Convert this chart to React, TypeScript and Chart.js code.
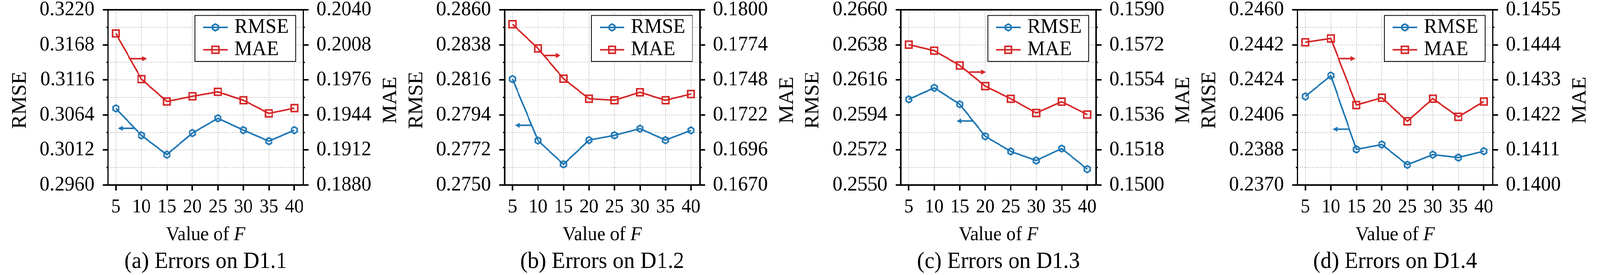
import React, { useEffect, useRef, useState } from 'react';
import { Chart, registerables } from 'chart.js';

Chart.register(...registerables);

const SERIF = '"Liberation Serif", "Times New Roman", serif';
const BLUE = '#1f77b4';
const RED = '#d62728';

// values of F on the x axis
const fValues = [5, 10, 15, 20, 25, 30, 35, 40];

// (a) D1.1
const rmseD11 = [0.30737, 0.30337, 0.30051, 0.30371, 0.3059, 0.30415, 0.30251, 0.30415];
const maeD11 = [0.20184, 0.19767, 0.19563, 0.1961, 0.19651, 0.19574, 0.19454, 0.19502];
const rmseTicksD11 = [0.296, 0.3012, 0.3064, 0.3116, 0.3168, 0.322];
const maeTicksD11 = [0.188, 0.1912, 0.1944, 0.1976, 0.2008, 0.204];
// arrows: tail x, head x, y (in axis units)
const rmseArrowD11 = [8.78, 5.41, 0.30442];
const maeArrowD11 = [7.85, 11.1, 0.19954];

// (b) D1.2
const rmseD12 = [0.28165, 0.27779, 0.2763, 0.27782, 0.27812, 0.27854, 0.27782, 0.27843];
const maeD12 = [0.17893, 0.17713, 0.17489, 0.1734, 0.17329, 0.17388, 0.17329, 0.17375];
const rmseTicksD12 = [0.275, 0.2772, 0.2794, 0.2816, 0.2838, 0.286];
const maeTicksD12 = [0.167, 0.1696, 0.1722, 0.1748, 0.1774, 0.18];
const rmseArrowD12 = [8.73, 5.47, 0.27875];
const maeArrowD12 = [11.32, 14.43, 0.17661];

// (c) D1.3
const rmseD13 = [0.26038, 0.2611, 0.26007, 0.25806, 0.25711, 0.25654, 0.25729, 0.256];
const maeD13 = [0.15721, 0.1569, 0.15614, 0.15508, 0.15443, 0.1537, 0.15428, 0.15362];
const rmseTicksD13 = [0.255, 0.2572, 0.2594, 0.2616, 0.2638, 0.266];
const maeTicksD13 = [0.15, 0.1518, 0.1536, 0.1554, 0.1572, 0.159];
const rmseArrowD13 = [17.67, 14.36, 0.25902];
const maeArrowD13 = [16.79, 20.15, 0.1558];

// (d) D1.4
const rmseD14 = [0.24155, 0.24262, 0.23883, 0.23908, 0.23804, 0.23856, 0.23841, 0.23874];
const maeD14 = [0.14448, 0.1446, 0.14251, 0.14274, 0.142, 0.14271, 0.14214, 0.14262];
const rmseTicksD14 = [0.237, 0.2388, 0.2406, 0.2424, 0.2442, 0.246];
const maeTicksD14 = [0.14, 0.1411, 0.1422, 0.1433, 0.1444, 0.1455];
const rmseArrowD14 = [13.69, 10.33, 0.23987];
const maeArrowD14 = [11.62, 14.82, 0.14397];

const captions = ['(a) Errors on D1.1', '(b) Errors on D1.2', '(c) Errors on D1.3', '(d) Errors on D1.4'];

interface PanelDef {
  caption: string;
  rmse: number[];
  mae: number[];
  rmseTicks: number[];
  maeTicks: number[];
  rmseArrow: number[];
  maeArrow: number[];
}

const panels: PanelDef[] = [
  { caption: captions[0], rmse: rmseD11, mae: maeD11, rmseTicks: rmseTicksD11, maeTicks: maeTicksD11, rmseArrow: rmseArrowD11, maeArrow: maeArrowD11 },
  { caption: captions[1], rmse: rmseD12, mae: maeD12, rmseTicks: rmseTicksD12, maeTicks: maeTicksD12, rmseArrow: rmseArrowD12, maeArrow: maeArrowD12 },
  { caption: captions[2], rmse: rmseD13, mae: maeD13, rmseTicks: rmseTicksD13, maeTicks: maeTicksD13, rmseArrow: rmseArrowD13, maeArrow: maeArrowD13 },
  { caption: captions[3], rmse: rmseD14, mae: maeD14, rmseTicks: rmseTicksD14, maeTicks: maeTicksD14, rmseArrow: rmseArrowD14, maeArrow: maeArrowD14 },
];

// the figure is laid out on a 4252 x 703 grid
const FIG_WIDTH = 4252;
const HEIGHT = 703;
const PLOT_LEFT = 287;
const PLOT_RIGHT = 806;
const LINE_W = 4;

// major ticks plus a minor one half way between each pair
const withMinor = (major: number[]) => {
  const out: number[] = [];
  major.forEach((v, i) => {
    out.push(v);
    if (i < major.length - 1) out.push((v + major[i + 1]) / 2);
  });
  return out;
};

const hexPath = (g: CanvasRenderingContext2D, cx: number, cy: number, r: number) => {
  g.beginPath();
  for (let k = 0; k < 6; k++) {
    const a = -Math.PI / 2 + (k * Math.PI) / 3;
    const px = cx + r * Math.cos(a);
    const py = cy + r * Math.sin(a);
    if (k === 0) g.moveTo(px, py);
    else g.lineTo(px, py);
  }
  g.closePath();
};

const makeHexMarker = (color: string) => {
  const c = document.createElement('canvas');
  c.width = 28;
  c.height = 28;
  const g = c.getContext('2d');
  if (g) {
    hexPath(g, 14, 14, 8.6);
    g.lineWidth = 4;
    g.strokeStyle = color;
    g.stroke();
  }
  return c;
};

const drawArrow = (g: CanvasRenderingContext2D, x1: number, x2: number, y: number, color: string) => {
  const dir = Math.sign(x2 - x1);
  g.save();
  g.strokeStyle = color;
  g.fillStyle = color;
  g.lineWidth = LINE_W;
  g.beginPath();
  g.moveTo(x1, y);
  g.lineTo(x2 - dir * 10, y);
  g.stroke();
  g.beginPath();
  g.moveTo(x2, y);
  g.lineTo(x2 - dir * 13, y - 6.5);
  g.lineTo(x2 - dir * 13, y + 6.5);
  g.closePath();
  g.fill();
  g.restore();
};

const Panel: React.FC<{ def: PanelDef; left: number; width: number }> = ({ def, left, width }) => {
  const canvasRef = useRef<HTMLCanvasElement | null>(null);

  useEffect(() => {
    if (!canvasRef.current) return;
    const ctx = canvasRef.current.getContext('2d');
    if (!ctx) return;

    const hex = makeHexMarker(BLUE);
    const rightWidth = width - PLOT_RIGHT;

    const decor = {
      id: 'decor',
      afterDatasetsDraw(chart: any) {
        const g: CanvasRenderingContext2D = chart.ctx;
        const { left: l, right: r, top: t } = chart.chartArea;
        const xs = chart.scales.x;
        const ys = chart.scales.y;
        const y1s = chart.scales.y1;

        // arrows telling which axis a curve belongs to
        drawArrow(g, xs.getPixelForValue(def.maeArrow[0]), xs.getPixelForValue(def.maeArrow[1]), y1s.getPixelForValue(def.maeArrow[2]), RED);
        drawArrow(g, xs.getPixelForValue(def.rmseArrow[0]), xs.getPixelForValue(def.rmseArrow[1]), ys.getPixelForValue(def.rmseArrow[2]), BLUE);

        // top spine
        g.save();
        g.strokeStyle = '#000';
        g.lineWidth = 4;
        g.beginPath();
        g.moveTo(l - 2, t);
        g.lineTo(r + 2, t);
        g.stroke();

        // minor ticks
        g.lineWidth = 3.5;
        ys.ticks.forEach((tk: any, i: number) => {
          if (i % 2 === 0) return;
          const py = ys.getPixelForValue(tk.value);
          g.beginPath();
          g.moveTo(l, py);
          g.lineTo(l - 4.5, py);
          g.stroke();
        });
        y1s.ticks.forEach((tk: any, i: number) => {
          if (i % 2 === 0) return;
          const py = y1s.getPixelForValue(tk.value);
          g.beginPath();
          g.moveTo(r, py);
          g.lineTo(r + 4.5, py);
          g.stroke();
        });

        // legend
        const bx = l + 231;
        const by = t + 14.5;
        const bw = r - 20 - bx;
        const bh = 117.5;
        g.fillStyle = '#fff';
        g.fillRect(bx, by, bw, bh);
        g.lineWidth = 2;
        g.strokeStyle = '#000';
        g.strokeRect(bx, by, bw, bh);
        const rows = [
          { label: 'RMSE', color: BLUE, y: t + 45 },
          { label: 'MAE', color: RED, y: t + 102.3 },
        ];
        rows.forEach((row, i) => {
          g.strokeStyle = row.color;
          g.lineWidth = LINE_W;
          g.beginPath();
          g.moveTo(l + 253, row.y);
          g.lineTo(l + 318, row.y);
          g.stroke();
          g.lineWidth = 4;
          if (i === 0) {
            hexPath(g, l + 285.5, row.y, 8.6);
            g.stroke();
          } else {
            g.strokeRect(l + 285.5 - 8.85, row.y - 8.85, 17.7, 17.7);
          }
          g.fillStyle = '#000';
          g.font = `53px ${SERIF}`;
          g.textAlign = 'left';
          g.textBaseline = 'middle';
          g.fillText(row.label, l + 336, row.y);
        });

        // axis titles
        const cx = (l + r) / 2;
        g.fillStyle = '#000';
        g.textBaseline = 'alphabetic';
        g.font = `54px ${SERIF}`;
        g.textAlign = 'center';
        g.save();
        g.translate(68, 256);
        g.rotate(-Math.PI / 2);
        g.fillText('RMSE', 0, 0);
        g.restore();
        g.save();
        g.translate(r + 247, 256);
        g.rotate(-Math.PI / 2);
        g.fillText('MAE', 0, 0);
        g.restore();

        const normal = `50px ${SERIF}`;
        const italic = `italic 50px ${SERIF}`;
        g.font = normal;
        const w1 = g.measureText('Value of ').width;
        g.font = italic;
        const w2 = g.measureText('F').width;
        g.textAlign = 'left';
        g.font = normal;
        g.fillText('Value of ', cx - (w1 + w2) / 2, 614);
        g.font = italic;
        g.fillText('F', cx - (w1 + w2) / 2 + w1, 614);

        g.font = `59px ${SERIF}`;
        g.textAlign = 'center';
        g.fillText(def.caption, cx, 685);
        g.restore();
      },
    };

    const gridBase = {
      color: '#b0b0b0',
      lineWidth: 2,
      drawTicks: true,
      tickLength: 14,
      tickWidth: 4,
    };
    const borderBase = { display: true, color: '#000', width: 4, dash: [2, 3.3] };
    const tickFont = { family: SERIF, size: 53 };

    const chart = new Chart(ctx, {
      type: 'line',
      data: {
        datasets: [
          {
            label: 'RMSE',
            data: fValues.map((x, i) => ({ x, y: def.rmse[i] })),
            yAxisID: 'y',
            borderColor: BLUE,
            borderWidth: LINE_W,
            borderJoinStyle: 'round',
            pointStyle: hex,
            pointRadius: 10,
            order: 1,
          },
          {
            label: 'MAE',
            data: fValues.map((x, i) => ({ x, y: def.mae[i] })),
            yAxisID: 'y1',
            borderColor: RED,
            borderWidth: LINE_W,
            borderJoinStyle: 'round',
            pointStyle: 'rect',
            pointRadius: 12.5,
            pointBorderWidth: 4,
            pointBorderColor: RED,
            pointBackgroundColor: 'rgba(0,0,0,0)',
            order: 0,
          },
        ],
      },
      options: {
        responsive: false,
        maintainAspectRatio: false,
        animation: false,
        devicePixelRatio: 1,
        events: [],
        layout: { padding: { top: 25, left: 0, right: 0, bottom: 0 } },
        plugins: {
          legend: { display: false },
          tooltip: { enabled: false },
        },
        scales: {
          x: {
            type: 'linear',
            position: 'bottom',
            bounds: 'data',
            min: 3.45,
            max: 41.75,
            afterBuildTicks: (s: any) => {
              s.ticks = fValues.map((v) => ({ value: v }));
            },
            afterFit: (s: any) => {
              s.height = HEIGHT - 473;
              s.paddingLeft = 0;
              s.paddingRight = 0;
            },
            ticks: {
              autoSkip: false,
              maxRotation: 0,
              minRotation: 0,
              padding: 13,
              color: '#000',
              font: { family: SERIF, size: 50 },
              callback: (v: any) => String(v),
            },
            grid: { ...gridBase, tickColor: '#000' },
            border: borderBase,
          },
          y: {
            type: 'linear',
            position: 'left',
            bounds: 'data',
            min: def.rmseTicks[0],
            max: def.rmseTicks[def.rmseTicks.length - 1],
            afterBuildTicks: (s: any) => {
              s.ticks = withMinor(def.rmseTicks).map((v) => ({ value: v }));
            },
            afterFit: (s: any) => {
              s.width = PLOT_LEFT;
              s.paddingTop = 0;
              s.paddingBottom = 0;
            },
            ticks: {
              autoSkip: false,
              padding: 22,
              color: '#000',
              font: tickFont,
              callback: (v: any, i: number) => (i % 2 ? '' : Number(v).toFixed(4)),
            },
            grid: { ...gridBase, tickColor: (c: any) => (c.index % 2 ? 'rgba(0,0,0,0)' : '#000') },
            border: borderBase,
          },
          y1: {
            type: 'linear',
            position: 'right',
            bounds: 'data',
            min: def.maeTicks[0],
            max: def.maeTicks[def.maeTicks.length - 1],
            afterBuildTicks: (s: any) => {
              s.ticks = withMinor(def.maeTicks).map((v) => ({ value: v }));
            },
            afterFit: (s: any) => {
              s.width = rightWidth;
              s.paddingTop = 0;
              s.paddingBottom = 0;
            },
            ticks: {
              autoSkip: false,
              padding: 21,
              color: '#000',
              font: tickFont,
              callback: (v: any, i: number) => (i % 2 ? '' : Number(v).toFixed(4)),
            },
            grid: {
              ...gridBase,
              drawOnChartArea: false,
              tickColor: (c: any) => (c.index % 2 ? 'rgba(0,0,0,0)' : '#000'),
            },
            border: borderBase,
          },
        },
      },
      plugins: [decor],
    } as any);

    return () => {
      chart.destroy();
    };
  }, [def, width]);

  return (
    <canvas
      ref={canvasRef}
      width={width}
      height={HEIGHT}
      style={{ position: 'absolute', left, top: 0, width, height: HEIGHT }}
    />
  );
};

const App: React.FC = () => {
  // the window may be narrower than the figure, so squeeze it to fit the width
  const [scaleX, setScaleX] = useState(() => Math.min(1, window.innerWidth / FIG_WIDTH));
  useEffect(() => {
    const onResize = () => setScaleX(Math.min(1, window.innerWidth / FIG_WIDTH));
    window.addEventListener('resize', onResize);
    return () => window.removeEventListener('resize', onResize);
  }, []);

  const lefts = [0, 1054, 2107, 3161];
  const widths = [1054, 1054, 1054, 1091];
  return (
    <div style={{ position: 'fixed', left: 0, top: 0, width: FIG_WIDTH * scaleX, height: HEIGHT, background: '#fff', overflow: 'hidden' }}>
      <div
        style={{
          position: 'absolute',
          left: 0,
          top: 0,
          width: FIG_WIDTH,
          height: HEIGHT,
          transform: `scale(${scaleX}, 1)`,
          transformOrigin: '0 0',
        }}
      >
        {panels.map((p, i) => (
          <Panel key={i} def={p} left={lefts[i]} width={widths[i]} />
        ))}
      </div>
    </div>
  );
};

export default App;
